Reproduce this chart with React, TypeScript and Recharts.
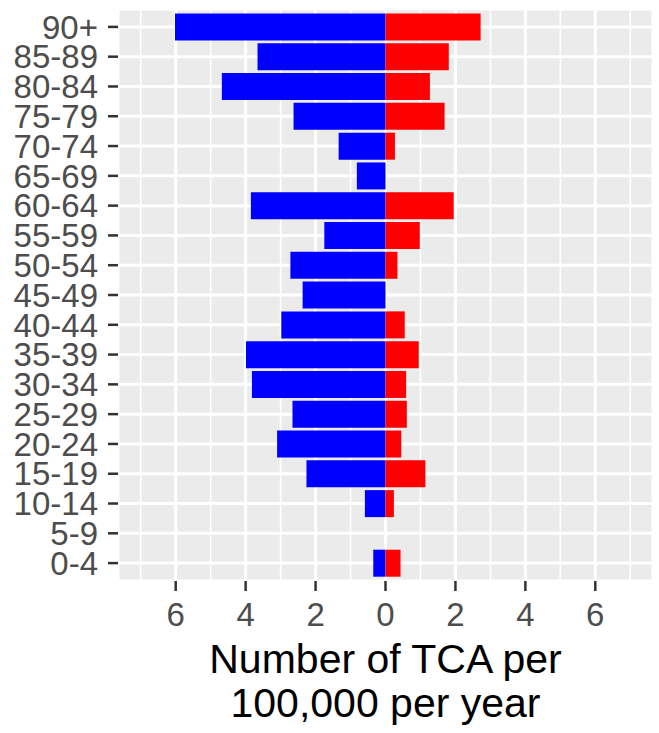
import { BarChart, Bar, XAxis, YAxis, CartesianGrid } from 'recharts'

const ageGroups = ['90+', '85-89', '80-84', '75-79', '70-74', '65-69', '60-64', '55-59', '50-54', '45-49', '40-44', '35-39', '30-34', '25-29', '20-24', '15-19', '10-14', '5-9', '0-4']
// left side (blue) and right side (red), per 100,000 per year
const leftRates = [6.02, 3.66, 4.68, 2.63, 1.34, 0.82, 3.85, 1.75, 2.72, 2.37, 2.98, 3.99, 3.82, 2.66, 3.1, 2.26, 0.59, 0, 0.35]
const rightRates = [2.72, 1.81, 1.27, 1.69, 0.27, 0, 1.95, 0.98, 0.34, 0, 0.55, 0.95, 0.59, 0.61, 0.45, 1.14, 0.24, 0, 0.43]
const majorTicks = [-6, -4, -2, 0, 2, 4, 6]
const minorTicks = [-7, -5, -3, -1, 1, 3, 5, 7]
const titleLines = ['Number of TCA per', '100,000 per year']

const FONT = '"Liberation Sans", Arial, sans-serif'
const DOMAIN: [number, number] = [-7.65, 7.65]

const data = ageGroups.map((age, i) => ({ age, left: -leftRates[i], right: rightRates[i] }))

function AxisTitle(props: any) {
  const vb = props.viewBox || {}
  const cx = vb.x + vb.width / 2
  const top = vb.y
  return (
    <text x={cx} y={top + 92} textAnchor="middle" fontSize={41} fill="#000" fontFamily={FONT}>
      <tspan x={cx}>{titleLines[0]}</tspan>
      <tspan x={cx} dy={44}>{titleLines[1]}</tspan>
    </text>
  )
}

export default function App() {
  return (
    <div style={{ position: 'absolute', left: 0, top: 0, width: 659, height: 733, background: '#fff' }}>
      <BarChart
        width={659}
        height={733}
        data={data}
        layout="vertical"
        stackOffset="sign"
        barCategoryGap="5%"
        margin={{ top: 9, right: 6, bottom: 0, left: 0 }}
      >
        <XAxis xAxisId="minor" type="number" domain={DOMAIN} ticks={minorTicks} allowDataOverflow hide />
        <CartesianGrid xAxisId="minor" horizontal={false} stroke="#fff" strokeWidth={1.6} fill="#EBEBEB" />
        <CartesianGrid stroke="#fff" strokeWidth={3} />
        <XAxis
          type="number"
          domain={DOMAIN}
          ticks={majorTicks}
          allowDataOverflow
          axisLine={false}
          tickSize={10}
          tickMargin={12}
          tickLine={{ stroke: '#333', strokeWidth: 2.5 }}
          tick={{ fontSize: 33, fill: '#4D4D4D', fontFamily: FONT }}
          tickFormatter={(v: number) => String(Math.abs(v))}
          height={152}
          label={<AxisTitle />}
        />
        <YAxis
          type="category"
          dataKey="age"
          width={118}
          axisLine={false}
          padding={{ top: 3, bottom: 3 }}
          tickSize={10}
          tickMargin={10}
          tickLine={{ stroke: '#333', strokeWidth: 2.5 }}
          tick={{ fontSize: 33, fill: '#4D4D4D', fontFamily: FONT }}
          interval={0}
        />
        <Bar dataKey="left" stackId="a" fill="#0000FF" isAnimationActive={false} />
        <Bar dataKey="right" stackId="a" fill="#FF0000" isAnimationActive={false} />
      </BarChart>
    </div>
  )
}
